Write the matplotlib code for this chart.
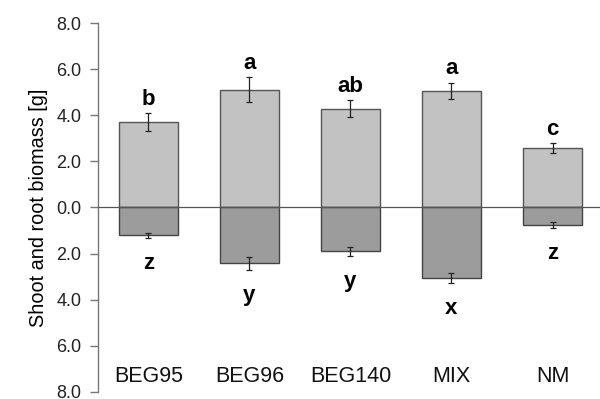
import numpy as np
import matplotlib
matplotlib.use("Agg")
import matplotlib.pyplot as plt

plt.rcParams['font.family'] = ['Liberation Sans', 'DejaVu Sans']

# data
groups = ['BEG95', 'BEG96', 'BEG140', 'MIX', 'NM']
shoot = [3.70, 5.11, 4.29, 5.05, 2.58]
shoot_err = [0.38, 0.55, 0.36, 0.36, 0.20]
root = [1.21, 2.42, 1.90, 3.06, 0.76]
root_err = [0.12, 0.28, 0.20, 0.22, 0.12]
shoot_letters = ['b', 'a', 'ab', 'a', 'c']
root_letters = ['z', 'y', 'y', 'x', 'z']
ytick_vals = [-8, -6, -4, -2, 0, 2, 4, 6, 8]

x = np.arange(len(groups))
w = 0.58

fig = plt.figure(figsize=(6.0, 3.99), dpi=100)
ax = fig.add_axes([0.163, 0.018, 0.837, 0.924])

ax.bar(x, shoot, width=w, color='#c2c2c2', edgecolor='#555555', linewidth=1.0, zorder=2)
ax.bar(x, [-r for r in root], width=w, color='#9c9c9c', edgecolor='#444444', linewidth=1.0, zorder=2)
ax.errorbar(x, shoot, yerr=shoot_err, fmt='none', ecolor='#222222', elinewidth=0.9, capsize=2.5, capthick=0.9, zorder=3)
ax.errorbar(x, [-r for r in root], yerr=root_err, fmt='none', ecolor='#222222', elinewidth=0.9, capsize=2.5, capthick=0.9, zorder=3)

ax.axhline(0, color='#555555', linewidth=0.9, zorder=4)

# significance letters
for i in range(len(groups)):
    ax.text(x[i], shoot[i] + shoot_err[i] + 0.15, shoot_letters[i], ha='center', va='bottom',
            fontsize=16, fontweight='bold')
    ax.text(x[i], -root[i] - root_err[i] - 0.65, root_letters[i], ha='center', va='top',
            fontsize=16, fontweight='bold')
    ax.text(x[i], -7.35, groups[i], ha='center', va='center', fontsize=15.5, color='#111111')

ax.set_xlim(-0.5, 4.47)
ax.set_ylim(-8, 8)
ax.set_yticks(ytick_vals)
ax.set_yticklabels(['%.1f' % abs(v) for v in ytick_vals], fontsize=13, color='#222222')
ax.set_xticks([])
ax.tick_params(axis='y', direction='out', length=6, width=1, color='#777777', pad=6)
for s in ['top', 'right', 'bottom']:
    ax.spines[s].set_visible(False)
ax.spines['left'].set_color('#777777')
ax.spines['left'].set_linewidth(1.0)
ax.set_ylabel('Shoot and root biomass [g]', fontsize=14.3, labelpad=6)

fig.savefig('out.png', dpi=100)
